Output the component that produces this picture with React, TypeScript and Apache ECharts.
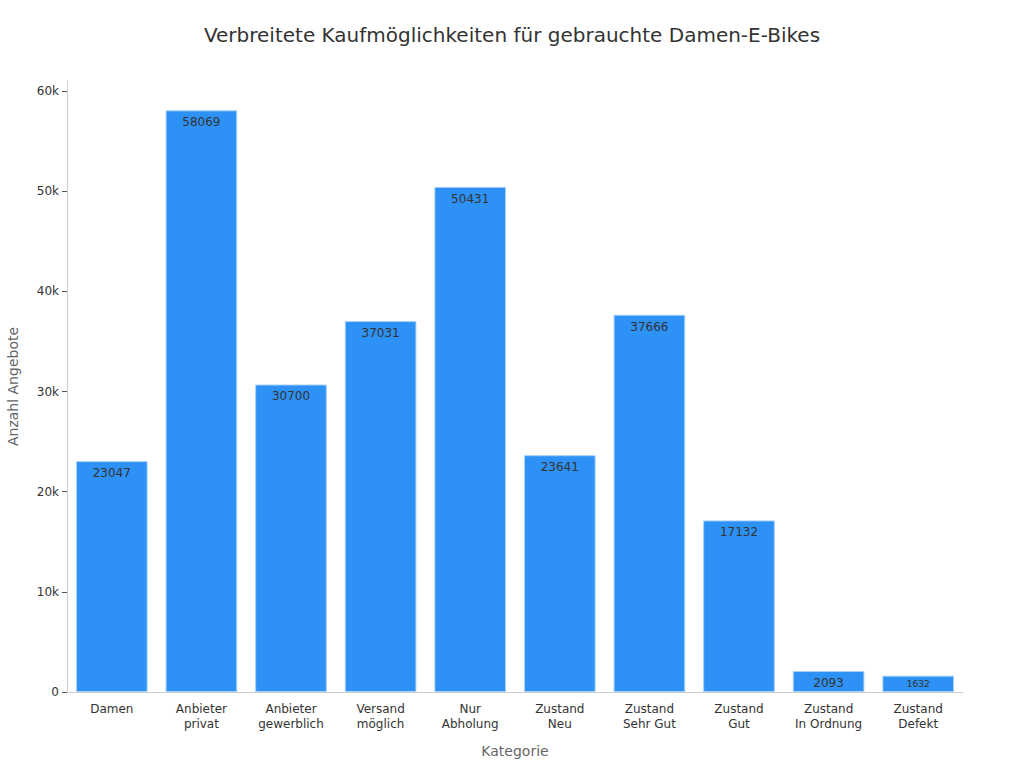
import React, { useEffect, useRef } from 'react'
import * as echarts from 'echarts'

const categories = [
    'Damen',
    'Anbieter\nprivat',
    'Anbieter\ngewerblich',
    'Versand\nmöglich',
    'Nur\nAbholung',
    'Zustand\nNeu',
    'Zustand\nSehr Gut',
    'Zustand\nGut',
    'Zustand\nIn Ordnung',
    'Zustand\nDefekt',
]
const counts = [23047, 58069, 30700, 37031, 50431, 23641, 37666, 17132, 2093, 1632]
const yTicks = [0, 10000, 20000, 30000, 40000, 50000, 60000]

const FONT = 'DejaVu Sans'

const App: React.FC = () => {
    const chartRef = useRef<HTMLDivElement | null>(null)

    useEffect(() => {
        document.body.style.margin = '0'
        if (!chartRef.current) return
        const chart = echarts.init(chartRef.current, undefined, { renderer: 'svg' })

        chart.setOption({
            animation: false,
            textStyle: { fontFamily: FONT },
            title: {
                text: 'Verbreitete Kaufmöglichkeiten für gebrauchte Damen-E-Bikes',
                left: 'center',
                top: 20,
                textStyle: { fontFamily: FONT, fontSize: 20, fontWeight: 'normal', color: '#333' },
            },
            grid: { left: 67, right: 61, top: 81, bottom: 76, containLabel: false, outerBoundsMode: 'none' },
            xAxis: {
                type: 'category',
                data: categories,
                name: 'Kategorie',
                nameLocation: 'middle',
                nameGap: 52,
                nameTextStyle: { fontFamily: FONT, fontSize: 14, color: '#666' },
                axisLine: { lineStyle: { color: '#ccc' } },
                axisTick: { alignWithLabel: true, lineStyle: { color: '#555' } },
                axisLabel: { fontFamily: FONT, fontSize: 12, color: '#333', lineHeight: 15, margin: 9 },
            },
            yAxis: {
                type: 'value',
                min: 0,
                max: 61000,
                interval: 10000,
                name: 'Anzahl Angebote',
                nameLocation: 'middle',
                nameGap: 47,
                nameTextStyle: { fontFamily: FONT, fontSize: 14, color: '#666' },
                axisLine: { show: true, lineStyle: { color: '#ccc' } },
                axisTick: { show: true, length: 5, lineStyle: { color: '#555' }, customValues: yTicks },
                axisLabel: {
                    fontFamily: FONT,
                    fontSize: 12,
                    color: '#333',
                    margin: 8,
                    customValues: yTicks,
                    formatter: (v: number) => (v === 0 ? '0' : v / 1000 + 'k'),
                },
                splitLine: { show: false },
            },
            series: [
                {
                    type: 'bar',
                    data: counts.map((v, i) => ({
                        value: v,
                        label: i === counts.length - 1 ? { fontSize: 9, distance: 4 } : undefined,
                    })),
                    barCategoryGap: '20%',
                    itemStyle: { color: '#2E91F6', borderColor: '#A9D1F7', borderWidth: 1 },
                    label: {
                        show: true,
                        position: 'insideTop',
                        distance: 6,
                        color: '#333',
                        fontFamily: FONT,
                        fontSize: 12,
                    },
                },
            ],
        })

        return () => {
            chart.dispose()
        }
    }, [])

    return <div ref={chartRef} style={{ width: 1024, height: 768 }} />
}

export default App
